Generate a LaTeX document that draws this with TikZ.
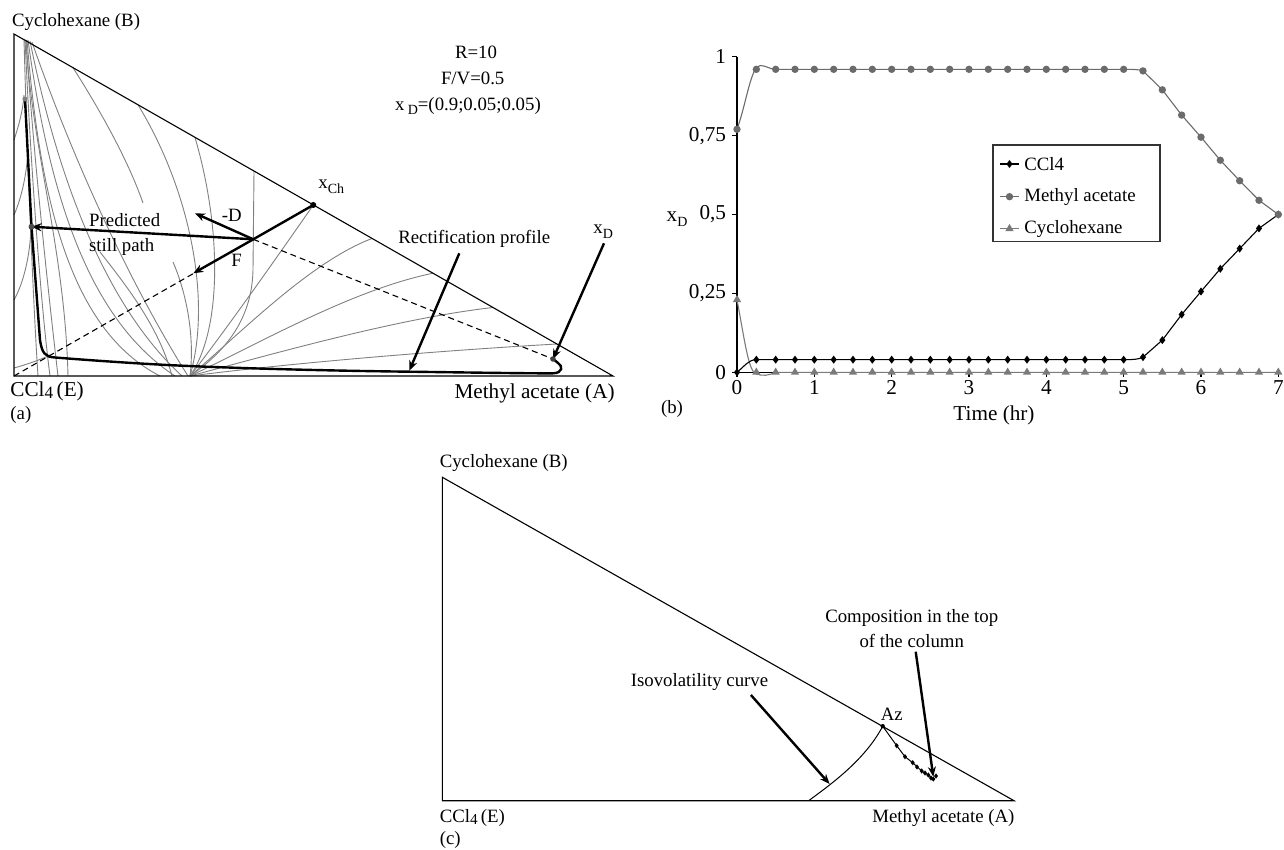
\documentclass[tikz,border=0pt]{standalone}
\usepackage{fontspec}
\setmainfont{Liberation Serif}
\usetikzlibrary{arrows.meta,shapes.geometric}
\definecolor{rc}{gray}{0.5}
\definecolor{macol}{gray}{0.42}
\definecolor{cycol}{gray}{0.48}
\newcommand{\sbx}[1]{\raisebox{-0.55ex}{\fontsize{7}{8}\selectfont #1}}
\newcommand{\sbf}[1]{\raisebox{-0.2ex}{\fontsize{7.6}{8}\selectfont #1}}
\newcommand{\sbg}[1]{\raisebox{-0.2ex}{\fontsize{8.6}{9}\selectfont #1}}
\begin{document}
\begin{tikzpicture}[x=0.5pt,y=-0.5pt,
  every node/.style={font=\fontsize{9.4}{11}\selectfont, inner sep=0pt},
  big/.style={font=\fontsize{10.6}{12}\selectfont},
  edge/.style={line width=0.55pt},
  res/.style={rc, line width=0.45pt},
  tarrow/.style={line width=1.2pt, -{Stealth[length=5pt,width=4pt]}},
  bold/.style={line width=1.2pt},
  dsh/.style={line width=0.55pt, dash pattern=on 3pt off 2pt},
  mcirc/.style={circle, fill=macol, inner sep=0pt, minimum size=3.7pt},
  mdiam/.style={diamond, fill=black, inner sep=0pt, minimum width=3.2pt, minimum height=4.2pt},
  mtri/.style={regular polygon, regular polygon sides=3, fill=cycol, inner sep=0pt, minimum size=4.8pt},
  sdiam/.style={diamond, fill=black, inner sep=0pt, minimum width=2.2pt, minimum height=2.8pt},
]
\useasboundingbox (0,0) rectangle (1284,850);

%%%%%%%%%%%%%%%% Panel (a) %%%%%%%%%%%%%%%%
\coordinate (aB) at (14,34);
\coordinate (aE) at (14,376);
\coordinate (aA) at (613,376);
\coordinate (M) at (253.3,239.3);
\coordinate (xCh) at (313.3,205);
\coordinate (xD) at (553,359);
\coordinate (Ftip) at (193.3,273.3);
\coordinate (Dtip) at (195,213.3);
\coordinate (Stip) at (31.5,226.7);
\coordinate (Stop) at (25,99);
\coordinate (rectS) at (459.3,253.3);
\coordinate (rectT) at (409.3,370.7);
\coordinate (xdS) at (604,243.3);

% residue curves
\draw[res] (190,376) .. controls (300,362) and (450,350) .. (557,344);
\draw[res] (190,376) .. controls (280,352) and (400,318) .. (493,307.5);
\draw[res] (190,376) .. controls (262,342) and (352,290) .. (433,273.2);
\draw[res] (190,376) .. controls (242,332) and (310,262) .. (372,238.5);
\draw[res] (190,376) .. controls (226,330) and (282,250) .. (xCh);
\draw[res] (190,376) .. controls (235,345) and (252,310) .. (253,270) -- (254,171);
\draw[res] (190,376) .. controls (222,330) and (222,230) .. (195,137.4);
\draw[res] (190,376) .. controls (212,300) and (190,190) .. (138,104.8);
\draw[res] (73,67.7) .. controls (100,110) and (128,160) .. (143,203);
\draw[res] (100,252) .. controls (130,290) and (160,330) .. (172,376);
\draw[res] (173,262) .. controls (186,292) and (195,335) .. (190,376);
\draw[res] (26,40) .. controls (32,150) and (65,250) .. (68,376);
\draw[res] (27,40) .. controls (40,200) and (70,330) .. (160,376);
\draw[res] (28,40) .. controls (50,200) and (90,320) .. (175,376);
\draw[res] (30,41) .. controls (60,190) and (110,310) .. (182,376);
\draw[res] (32,42) .. controls (80,180) and (140,300) .. (188,376);
\draw[res] (24,39) .. controls (27,150) and (33,300) .. (38,376);
\draw[res] (25,39) .. controls (30,150) and (40,300) .. (50,376);
\draw[res] (26,40) .. controls (33,150) and (48,290) .. (58,376);
\draw[res] (14,140) .. controls (19,125) and (23,110) .. (24,95);
\draw[res] (14,215) .. controls (22,197) and (27,172) .. (28,150);
\draw[res] (14,300) .. controls (24,282) and (30,255) .. (31,228);
\draw[res] (14,368) .. controls (25,365) and (40,360) .. (50,355);

% triangle
\draw[edge] (aB) -- (aE) -- (aA) -- cycle;

% dashed lines
\draw[dsh] (aE) -- (M);
\draw[dsh] (M) -- (xD);

% still path / rectification profile
\draw[bold] (Stop) -- (Stip) -- (40,340) .. controls (42,353) and (45,357) .. (55,357.5)
  .. controls (100,361) and (130,363) .. (167,365)
  .. controls (250,369) and (350,371) .. (410,371.7)
  .. controls (470,372.5) and (530,373.5) .. (553,373.3)
  .. controls (563,373) and (563,366) .. (558,363)
  .. controls (556,361) and (554,360) .. (xD);

% arrows
\draw[bold] (M) -- (xCh);
\draw[tarrow] (M) -- (Ftip);
\draw[tarrow] (M) -- (Dtip);
\draw[tarrow] (M) -- (Stip);
\draw[tarrow] (rectS) -- (rectT);
\draw[tarrow] (xdS) -- (xD);

% dots
\fill[gray] (Stop) circle (1.3pt);
\fill[black!70] (Stip) circle (1.5pt);
\fill[black] (xCh) circle (1.5pt);
\fill[black!75] (xD) circle (1.4pt);

% labels
\node[anchor=west] (lbB) at (11.7,21.7) {Cyclohexane (B)};
\node[anchor=west, big] (lbE) at (10,391) {CCl\sbg{4}\,(E)};
\node[anchor=west] (lba) at (10,415) {(a)};
\node[anchor=east, big] (lbA) at (615,393.3) {Methyl acetate (A)};
\node (pR) at (476,52) {R=10};
\node (pF) at (472.7,78.3) {F/V=0.5};
\node (pX) at (468,106) {x\,\sbx{D}=(0.9;0.05;0.05)};
\node[anchor=west] (lxch) at (318,187) {x\sbx{Ch}};
\node (lmD) at (231.7,215) {-D};
\node (lF) at (236.7,260) {F};
\node (lpred) at (124.7,220) {Predicted};
\node (lstill) at (121.7,246.7) {still path};
\node (lrect) at (474.3,239.3) {Rectification profile};
\node[anchor=west] (lxd) at (593,232) {x\sbx{D}};

%%%%%%%%%%%%%%%% Panel (b) %%%%%%%%%%%%%%%%
\begin{scope}[shift={(737,372.3)}, x=38.665pt, y=157.8pt]
  \draw[edge] (0,1) -- (0,0) -- (7,0);
  \foreach \v/\l [count=\n] in {0/0,0.25/{0,25},0.5/{0,5},0.75/{0,75},1/1} {
    \draw[edge] (0,\v) -- (-0.065,\v);
    \node[anchor=east, big] (yt\n) at (-0.137,\v) {\l};
  }
  \foreach \t in {0,...,7} {
    \draw[edge] (\t,0) -- (\t,-0.016);
    \node[anchor=north, big] (xt\t) at (\t,-0.024) {\t};
  }
  % curves
  \draw[cycol, line width=0.55pt] (0,0.23) .. controls (0.1,0.1) and (0.15,0.0) .. (0.25,-0.005)
     .. controls (0.32,-0.013) and (0.42,-0.01) .. (0.5,0) -- (7,0);
  \draw[black, line width=0.55pt] (0,0) .. controls (0.1,0.02) and (0.15,0.04) .. (0.25,0.04) -- (5,0.04)
     .. controls (5.15,0.04) and (5.2,0.042) .. (5.25,0.048) -- (5.5,0.102) -- (5.75,0.183)
     -- (6,0.256) -- (6.25,0.328) -- (6.5,0.392) -- (6.75,0.456) -- (7,0.5);
  \draw[macol, line width=0.55pt] (0,0.77) .. controls (0.12,0.85) and (0.18,0.972) .. (0.3,0.972)
     .. controls (0.38,0.972) and (0.42,0.96) .. (0.5,0.96) -- (5,0.96)
     .. controls (5.1,0.96) and (5.2,0.96) .. (5.25,0.955) -- (5.5,0.895) -- (5.75,0.815)
     -- (6,0.745) -- (6.25,0.672) -- (6.5,0.607) -- (6.75,0.545) -- (7,0.5);
  % markers
  \foreach \k in {0,...,28} {
    \node[mtri] (cy\k) at ({\k*0.25},{\k==0 ? 0.23 : 0}) {};
  }
  \foreach \k in {1,...,20} {
    \node[mdiam] (cc\k) at ({\k*0.25},0.04) {};
    \node[mcirc] (ma\k) at ({\k*0.25},0.96) {};
  }
  \node[mdiam] (cc0) at (0,0) {};
  \node[mcirc] (ma0) at (0,0.77) {};
  \foreach \t/\c/\m [count=\n] in {5.25/0.048/0.955,5.5/0.102/0.895,5.75/0.183/0.815,6/0.256/0.745,
      6.25/0.328/0.672,6.5/0.392/0.607,6.75/0.456/0.545,7/0.5/0.5} {
    \node[mdiam] (cd\n) at (\t,\c) {};
    \node[mcirc] (md\n) at (\t,\m) {};
  }
\end{scope}

% legend
\node[draw=black!80, line width=0.6pt, minimum width=83.5pt, minimum height=48.3pt] (leg) at (1076.5,193.3) {};
\draw[black, line width=0.55pt] (1000,164) -- (1019,164);
\node[mdiam] (lg1) at (1009.5,164) {};
\node[anchor=west] (lgt1) at (1024,164) {CCl4};
\draw[macol, line width=0.55pt] (1000,196.7) -- (1019,196.7);
\node[mcirc] (lg2) at (1009.5,196.7) {};
\node[anchor=west] (lgt2) at (1024,196.7) {Methyl acetate};
\draw[cycol, line width=0.55pt] (1000,228.7) -- (1019,228.7);
\node[mtri] (lg3) at (1009.5,228.7) {};
\node[anchor=west] (lgt3) at (1024,228.7) {Cyclohexane};

\node[big] (bxd) at (677,219) {x\sbx{D}};
\node[big] (btime) at (994,415) {Time (hr)};
\node (blab) at (672,409) {(b)};

%%%%%%%%%%%%%%%% Panel (c) %%%%%%%%%%%%%%%%
\coordinate (cB) at (442.4,477.3);
\coordinate (cE) at (442.4,800.7);
\coordinate (cA) at (1014,800.7);
\coordinate (Az) at (882.7,726.2);
\coordinate (isoS) at (750.9,695);
\coordinate (isoT) at (829.6,784);
\coordinate (cmpS) at (915.7,651.7);
\coordinate (cmpT) at (933.3,776.7);

\draw[edge] (cB) -- (cE) -- (cA) -- cycle;
\draw[line width=0.5pt] (808.6,800.7) .. controls (830,785) and (865,760) .. (Az);
\draw[line width=0.5pt] (Az) -- (896.7,745.7) -- (905,756.7) -- (912.7,762.7) -- (921.7,771)
   -- (928.3,775) -- (933.3,779);
\fill (Az) circle (1.1pt);
\foreach \p [count=\n] in {(896.7,745.7),(905,756.7),(912.7,762.7),(917,767),(921.7,771),(925,773),
   (928.3,775),(931,778),(933.3,779),(936,776)} {
  \node[sdiam] (tr\n) at \p {};
}
\draw[tarrow] (isoS) -- (isoT);
\draw[tarrow] (cmpS) -- (cmpT);

\node[anchor=west] (cbB) at (439.4,463.3) {Cyclohexane (B)};
\node[anchor=west] (cbE) at (439.4,818) {CCl\sbf{4}\,(E)};
\node[anchor=west] (cbc) at (439.4,840) {(c)};
\node[anchor=east] (cbA) at (1014.8,818) {Methyl acetate (A)};
\node (caz) at (891.7,714) {Az};
\node (ciso) at (699.5,682.3) {Isovolatility curve};
\node (ccmp1) at (911.7,618.3) {Composition in the top};
\node (ccmp2) at (911.7,640.7) {of the column};
\end{tikzpicture}
\end{document}
